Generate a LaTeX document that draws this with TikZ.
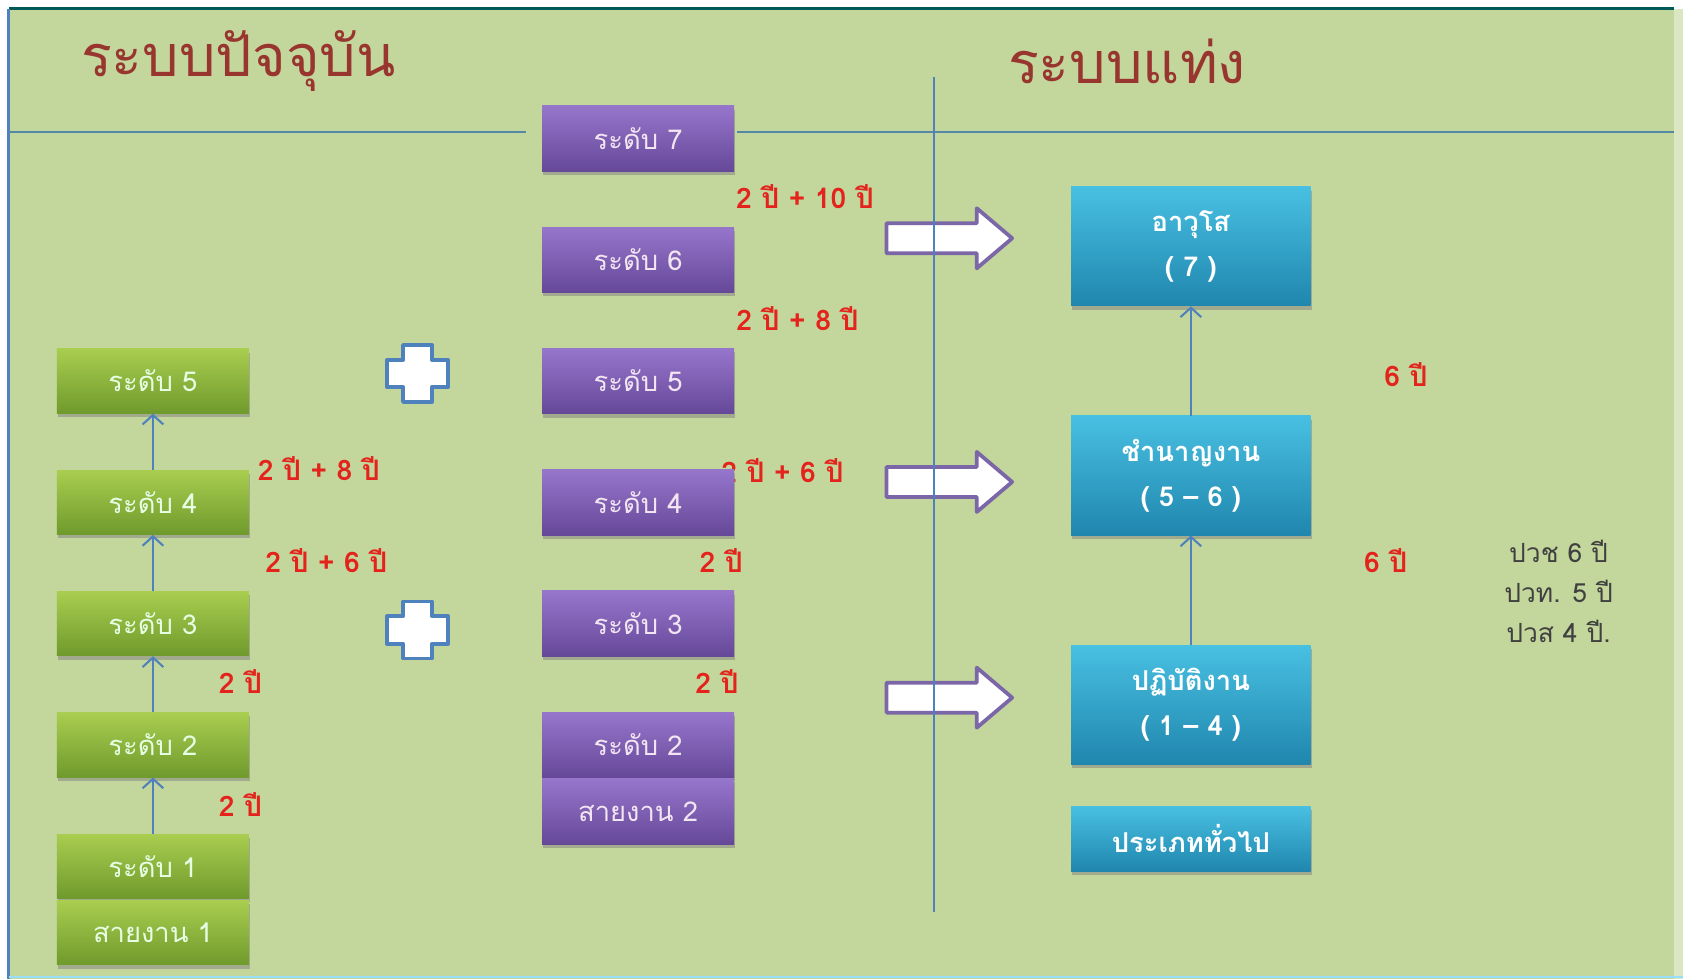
\documentclass[tikz,border=0pt]{standalone}
\usepackage{fontspec}
\setmainfont[Script=Thai]{Loma}
\usetikzlibrary{shadows,arrows.meta}

\definecolor{bggreen}{HTML}{C3D69B}
\definecolor{titlered}{HTML}{98352F}
\definecolor{divline}{HTML}{5389A6}
\definecolor{linkblue}{HTML}{4F81BD}
\definecolor{yearred}{HTML}{E3231C}
\definecolor{greentop}{HTML}{A9CD4F}
\definecolor{greenbot}{HTML}{6F9A2C}
\definecolor{purpletop}{HTML}{9676CB}
\definecolor{purplebot}{HTML}{664899}
\definecolor{bluetop}{HTML}{48C0E2}
\definecolor{bluebot}{HTML}{2086AE}
\definecolor{arrowpurple}{HTML}{7B66A8}

\tikzset{
  levelbox/.style={rectangle, inner sep=0pt, minimum width=3.58cm, minimum height=1.2cm,
    font=\fontsize{14.5}{18}\selectfont,
    drop shadow={shadow xshift=0.6pt, shadow yshift=-2pt, opacity=0.5}},
  greenbox/.style={levelbox, top color=greentop, bottom color=greenbot, text=green!10!white},
  purplebox/.style={levelbox, minimum height=1.22cm, top color=purpletop, bottom color=purplebot, text=violet!10!white},
  bluebox/.style={levelbox, minimum width=4.46cm, minimum height=2.22cm, align=center,
    top color=bluetop, bottom color=bluebot, text=white, font=\bfseries\fontsize{14.5}{24}\selectfont},
  years/.style={text=yearred, inner sep=1pt, font=\bfseries\fontsize{15}{18}\selectfont},
  note/.style={text=black!75, align=center, font=\fontsize{14}{21.3}\selectfont},
  headline/.style={text=titlered, font=\fontsize{30.5}{36}\selectfont},
  divider/.style={draw=divline, line width=1.2pt},
  stepup/.style={draw=linkblue, line width=1.1pt, -{Straight Barb[length=5pt,width=11pt]}},
  plusmark/.style={draw=linkblue, fill=white, line width=2pt},
  hollowarrow/.style={draw=arrowpurple, fill=white, line width=2pt},
}

\begin{document}
\begin{tikzpicture}[x=0.02cm, y=-0.02cm, line join=round]
  \useasboundingbox (0,0) rectangle (1568,912);

  % background and frame
  \fill[white] (0,0) rectangle (1568,912);
  \fill[bggreen] (8,8) rectangle (1568,912);
  \fill[bggreen!60!white] (1560,8) rectangle (1568,912);
  \draw[teal!70!black, line width=1.6pt] (8,8) -- (1560,8);
  \draw[linkblue, line width=1.6pt] (8,8) -- (8,912);
  \draw[cyan!40!white, line width=1.2pt] (8,910.5) -- (1568,910.5);

  % titles
  \node[headline] (oldtitle) at (222,57) {ระบบปัจจุบัน};
  \node[headline] (newtitle) at (1050,57) {ระบบแท่ง};

  \draw[divider] (8,123) -- (490,123);
  \draw[divider] (687,123) -- (1560,123);

  % years, middle column (under the boxes)
  \node[years] (y76) at (750,183) {2 ปี + 10 ปี};
  \node[years] (y65) at (743,297) {2 ปี + 8 ปี};
  \node[years] (y54) at (729,438) {2 ปี + 6 ปี};
  \node[years] (y43) at (672,522) {2 ปี};
  \node[years] (y32) at (668,635) {2 ปี};

  % current system, line 1
  \foreach \n/\y in {5/355,4/468,3/581,2/694,1/807}
    \node[greenbox] (g\n) at (142.5,\y) {ระดับ \n};
  \node[greenbox] (gline) at (142.5,869) {สายงาน 1};
  \foreach \a/\b in {1/2,2/3,3/4,4/5}
    \draw[stepup] (g\a) -- (g\b);

  \node[years] (g54) at (297,437) {2 ปี + 8 ปี};
  \node[years] (g43) at (304,522) {2 ปี + 6 ปี};
  \node[years] (g32) at (224,635) {2 ปี};
  \node[years] (g21) at (224,750) {2 ปี};

  % plus signs
  \foreach \y in {348,587}
    \draw[plusmark, shift={(389,\y)}] (-13.5,-26.5) -- (13.5,-26.5) -- (13.5,-12.75)
      -- (28.5,-12.75) -- (28.5,12.75) -- (13.5,12.75) -- (13.5,26.5) -- (-13.5,26.5)
      -- (-13.5,12.75) -- (-28.5,12.75) -- (-28.5,-12.75) -- (-13.5,-12.75) -- cycle;

  % current system, line 2
  \foreach \n/\y in {7/129,6/242,5/355,4/468,3/581,2/694}
    \node[purplebox] (p\n) at (594.5,\y) {ระดับ \n};
  \node[purplebox] (pline) at (594.5,756) {สายงาน 2};

  % hollow arrows
  \foreach \y in {222,449,650}
    \draw[hollowarrow, shift={(0,\y)}] (826,-14) -- (910,-14) -- (910,-28) -- (943,0)
      -- (910,28) -- (910,14) -- (826,14) -- cycle;

  \draw[divider, draw=linkblue] (870,72) -- (870,850);

  % broadband system
  \node[bluebox] (senior) at (1109.5,229.5) {อาวุโส\\( 7 )};
  \node[bluebox] (expert) at (1109.5,443) {ชำนาญงาน\\( 5 – 6 )};
  \node[bluebox] (oper) at (1109.5,656.5) {ปฏิบัติงาน\\( 1 – 4 )};
  \node[bluebox, minimum height=1.22cm] (general) at (1109.5,781.5) {ประเภททั่วไป};
  \draw[stepup] (oper) -- (expert);
  \draw[stepup] (expert) -- (senior);

  \node[years] (s2) at (1310,349) {6 ปี};
  \node[years] (s1) at (1291,522) {6 ปี};

  \node[note] (diploma) at (1452,551) {ปวช 6 ปี\\ปวท. 5 ปี\\ปวส 4 ปี.};

\end{tikzpicture}
\end{document}
